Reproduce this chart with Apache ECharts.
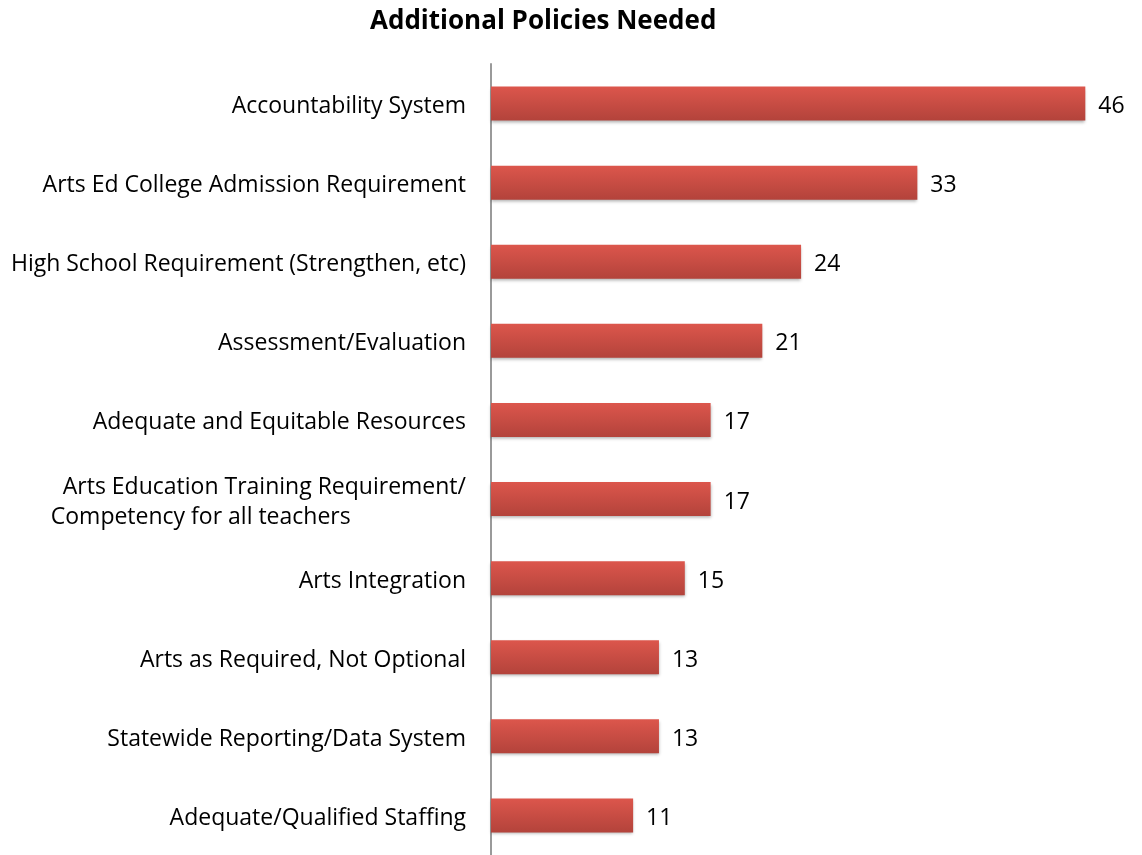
<!DOCTYPE html>
<html><head><meta charset="utf-8">
<script src="https://cdn.jsdelivr.net/npm/echarts@6/dist/echarts.min.js"></script>
<style>html,body{margin:0;padding:0;background:#fff}#c{width:1142px;height:855px}</style>
</head><body><div id="c"></div>
<script>
const categories = [
  "Accountability System",
  "Arts Ed College Admission Requirement",
  "High School Requirement (Strengthen, etc)",
  "Assessment/Evaluation",
  "Adequate and Equitable Resources",
  "Arts Education Training Requirement/\nCompetency for all teachers",
  "Arts Integration",
  "Arts as Required, Not Optional",
  "Statewide Reporting/Data System",
  "Adequate/Qualified Staffing"
];
const values = [46, 33, 24, 21, 17, 17, 15, 13, 13, 11];
const titleText = "Additional Policies Needed";

const chart = echarts.init(document.getElementById('c'));
const font = '"Open Sans", sans-serif';
chart.setOption({
  animation: false,
  title: {
    text: titleText, left: 365, top: 4,
    textStyle: {fontFamily: font, fontWeight: 'bold', fontSize: 26, color: '#000'}
  },
  grid: {left: 491, top: 64, height: 798, width: 646, containLabel: false},
  xAxis: {
    type: 'value', min: 0, max: 50, show: false
  },
  yAxis: {
    type: 'category', data: categories, inverse: true,
    axisLine: {show: true, lineStyle: {color: '#9a9a9a', width: 2}},
    axisTick: {show: false},
    axisLabel: {
      margin: 25, fontFamily: font, fontSize: 23, color: '#000', lineHeight: 30,
      padding: [6, 0, 0, 0],
      formatter: function (v) {
        if (v.indexOf('\n') >= 0) {
          const p = v.split('\n');
          return '{a|' + p[0] + '}\n{b|' + p[1] + '}';
        }
        return v;
      },
      rich: {
        a: {fontFamily: font, fontSize: 23, color: '#000', lineHeight: 30, padding: [0, 0, 0, 12]},
        b: {fontFamily: font, fontSize: 23, color: '#000', lineHeight: 30, align: 'left'}
      }
    }
  },
  series: [{
    type: 'bar', data: values, barWidth: 34,
    itemStyle: {
      color: new echarts.graphic.LinearGradient(0, 0, 0, 1, [
        {offset: 0, color: '#dc564c'},
        {offset: 1, color: '#b3433b'}
      ]),
      shadowColor: 'rgba(0,0,0,0.3)', shadowBlur: 3, shadowOffsetY: 2
    },
    label: {show: true, position: 'right', distance: 13, offset: [0, 3], fontFamily: font, fontSize: 23, color: '#000'}
  }]
});
</script></body></html>
